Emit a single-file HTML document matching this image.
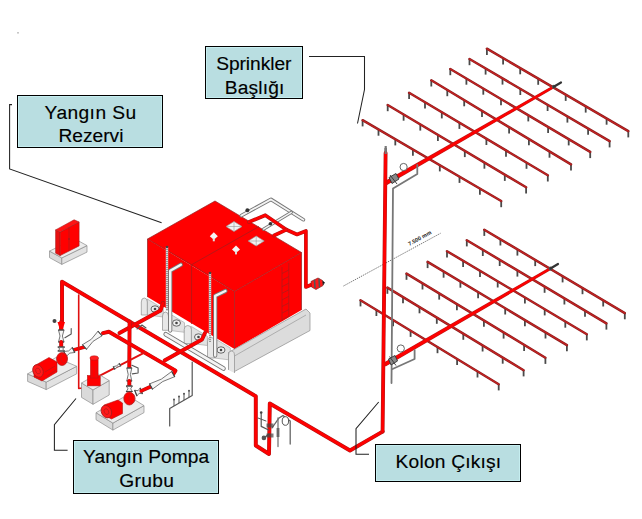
<!DOCTYPE html><html><head><meta charset="utf-8"><style>html,body{margin:0;padding:0;background:#fff;width:642px;height:519px;overflow:hidden}svg{position:absolute;left:0;top:0}</style></head><body>
<svg width="642" height="519" viewBox="0 0 642 519">
<rect x="17" y="32" width="2" height="1.6" fill="#c8c8c8"/>
<path d="M362.6,120.2 V126.4" stroke="#4a4a4a" stroke-width="1.8"/>
<path d="M378.5,129.5 V135.7" stroke="#4a4a4a" stroke-width="1.8"/>
<path d="M395.3,139.2 V145.4" stroke="#4a4a4a" stroke-width="1.8"/>
<path d="M412.9,149.5 V155.7" stroke="#4a4a4a" stroke-width="1.8"/>
<path d="M439.8,165.2 V171.4" stroke="#4a4a4a" stroke-width="1.8"/>
<path d="M459.5,176.7 V182.9" stroke="#4a4a4a" stroke-width="1.8"/>
<path d="M479.9,188.6 V194.8" stroke="#4a4a4a" stroke-width="1.8"/>
<path d="M501.2,201.0 V207.2" stroke="#4a4a4a" stroke-width="1.8"/>
<path d="M362.6,120.2 L501.2,201" stroke="#8c1f1f" stroke-width="2.5" stroke-linecap="round"/>
<path d="M362.6,120.2 L501.2,201" stroke="#c62222" stroke-width="1.2" stroke-linecap="round"/>
<path d="M387.7,105.0 V111.2" stroke="#4a4a4a" stroke-width="1.8"/>
<path d="M403.6,114.5 V120.7" stroke="#4a4a4a" stroke-width="1.8"/>
<path d="M420.3,124.4 V130.6" stroke="#4a4a4a" stroke-width="1.8"/>
<path d="M437.9,134.8 V141.0" stroke="#4a4a4a" stroke-width="1.8"/>
<path d="M464.8,150.9 V157.1" stroke="#4a4a4a" stroke-width="1.8"/>
<path d="M484.4,162.5 V168.7" stroke="#4a4a4a" stroke-width="1.8"/>
<path d="M504.8,174.7 V180.9" stroke="#4a4a4a" stroke-width="1.8"/>
<path d="M526.1,187.3 V193.5" stroke="#4a4a4a" stroke-width="1.8"/>
<path d="M387.7,105 L526.1,187.3" stroke="#8c1f1f" stroke-width="2.5" stroke-linecap="round"/>
<path d="M387.7,105 L526.1,187.3" stroke="#c62222" stroke-width="1.2" stroke-linecap="round"/>
<path d="M409.1,92.8 V99.0" stroke="#4a4a4a" stroke-width="1.8"/>
<path d="M425.0,102.3 V108.5" stroke="#4a4a4a" stroke-width="1.8"/>
<path d="M441.8,112.2 V118.4" stroke="#4a4a4a" stroke-width="1.8"/>
<path d="M459.4,122.7 V128.9" stroke="#4a4a4a" stroke-width="1.8"/>
<path d="M486.4,138.8 V145.0" stroke="#4a4a4a" stroke-width="1.8"/>
<path d="M506.0,150.5 V156.7" stroke="#4a4a4a" stroke-width="1.8"/>
<path d="M526.5,162.6 V168.8" stroke="#4a4a4a" stroke-width="1.8"/>
<path d="M547.8,175.3 V181.5" stroke="#4a4a4a" stroke-width="1.8"/>
<path d="M409.1,92.8 L547.8,175.3" stroke="#8c1f1f" stroke-width="2.5" stroke-linecap="round"/>
<path d="M409.1,92.8 L547.8,175.3" stroke="#c62222" stroke-width="1.2" stroke-linecap="round"/>
<path d="M431.3,80.3 V86.5" stroke="#4a4a4a" stroke-width="1.8"/>
<path d="M447.3,90.0 V96.2" stroke="#4a4a4a" stroke-width="1.8"/>
<path d="M464.2,100.1 V106.3" stroke="#4a4a4a" stroke-width="1.8"/>
<path d="M482.0,110.8 V117.0" stroke="#4a4a4a" stroke-width="1.8"/>
<path d="M509.1,127.2 V133.4" stroke="#4a4a4a" stroke-width="1.8"/>
<path d="M528.9,139.1 V145.3" stroke="#4a4a4a" stroke-width="1.8"/>
<path d="M549.5,151.5 V157.7" stroke="#4a4a4a" stroke-width="1.8"/>
<path d="M571.0,164.4 V170.6" stroke="#4a4a4a" stroke-width="1.8"/>
<path d="M431.3,80.3 L571,164.4" stroke="#8c1f1f" stroke-width="2.5" stroke-linecap="round"/>
<path d="M431.3,80.3 L571,164.4" stroke="#c62222" stroke-width="1.2" stroke-linecap="round"/>
<path d="M450.3,69.0 V75.2" stroke="#4a4a4a" stroke-width="1.8"/>
<path d="M466.4,78.5 V84.7" stroke="#4a4a4a" stroke-width="1.8"/>
<path d="M483.3,88.5 V94.7" stroke="#4a4a4a" stroke-width="1.8"/>
<path d="M501.0,99.1 V105.3" stroke="#4a4a4a" stroke-width="1.8"/>
<path d="M528.3,115.2 V121.4" stroke="#4a4a4a" stroke-width="1.8"/>
<path d="M548.1,126.9 V133.1" stroke="#4a4a4a" stroke-width="1.8"/>
<path d="M568.7,139.2 V145.4" stroke="#4a4a4a" stroke-width="1.8"/>
<path d="M590.2,151.9 V158.1" stroke="#4a4a4a" stroke-width="1.8"/>
<path d="M450.3,69 L590.2,151.9" stroke="#8c1f1f" stroke-width="2.5" stroke-linecap="round"/>
<path d="M450.3,69 L590.2,151.9" stroke="#c62222" stroke-width="1.2" stroke-linecap="round"/>
<path d="M469.5,59.0 V65.2" stroke="#4a4a4a" stroke-width="1.8"/>
<path d="M485.6,68.4 V74.6" stroke="#4a4a4a" stroke-width="1.8"/>
<path d="M502.5,78.4 V84.6" stroke="#4a4a4a" stroke-width="1.8"/>
<path d="M520.3,88.8 V95.0" stroke="#4a4a4a" stroke-width="1.8"/>
<path d="M547.6,104.8 V111.0" stroke="#4a4a4a" stroke-width="1.8"/>
<path d="M567.4,116.4 V122.6" stroke="#4a4a4a" stroke-width="1.8"/>
<path d="M588.1,128.6 V134.8" stroke="#4a4a4a" stroke-width="1.8"/>
<path d="M609.6,141.2 V147.4" stroke="#4a4a4a" stroke-width="1.8"/>
<path d="M469.5,59 L609.6,141.2" stroke="#8c1f1f" stroke-width="2.5" stroke-linecap="round"/>
<path d="M469.5,59 L609.6,141.2" stroke="#c62222" stroke-width="1.2" stroke-linecap="round"/>
<path d="M486.9,48.7 V54.9" stroke="#4a4a4a" stroke-width="1.8"/>
<path d="M503.1,58.2 V64.4" stroke="#4a4a4a" stroke-width="1.8"/>
<path d="M520.2,68.1 V74.3" stroke="#4a4a4a" stroke-width="1.8"/>
<path d="M538.2,78.6 V84.8" stroke="#4a4a4a" stroke-width="1.8"/>
<path d="M565.7,94.7 V100.9" stroke="#4a4a4a" stroke-width="1.8"/>
<path d="M585.7,106.4 V112.6" stroke="#4a4a4a" stroke-width="1.8"/>
<path d="M606.6,118.5 V124.7" stroke="#4a4a4a" stroke-width="1.8"/>
<path d="M628.3,131.2 V137.4" stroke="#4a4a4a" stroke-width="1.8"/>
<path d="M486.9,48.7 L628.3,131.2" stroke="#8c1f1f" stroke-width="2.5" stroke-linecap="round"/>
<path d="M486.9,48.7 L628.3,131.2" stroke="#c62222" stroke-width="1.2" stroke-linecap="round"/>
<polygon points="387.1,184.9 554.5,88.1 553.1,85.5 384.9,181.1" fill="#c01818"/>
<polygon points="386.8,184.3 554.3,87.6 553.3,86.0 385.2,181.7" fill="#ff0000"/>
<circle cx="553.8" cy="86.8" r="2" fill="#555"/>
<path d="M553.8,86.8 L561,82.5" stroke="#333" stroke-width="2.2" stroke-linecap="round"/>
<path d="M360.5,300.2 V306.4" stroke="#4a4a4a" stroke-width="1.8"/>
<path d="M376.4,309.8 V316.0" stroke="#4a4a4a" stroke-width="1.8"/>
<path d="M393.1,320.0 V326.2" stroke="#4a4a4a" stroke-width="1.8"/>
<path d="M410.6,330.7 V336.9" stroke="#4a4a4a" stroke-width="1.8"/>
<path d="M437.5,347.0 V353.2" stroke="#4a4a4a" stroke-width="1.8"/>
<path d="M457.1,358.9 V365.1" stroke="#4a4a4a" stroke-width="1.8"/>
<path d="M477.5,371.3 V377.5" stroke="#4a4a4a" stroke-width="1.8"/>
<path d="M498.7,384.2 V390.4" stroke="#4a4a4a" stroke-width="1.8"/>
<path d="M360.5,300.2 L498.7,384.2" stroke="#8c1f1f" stroke-width="2.5" stroke-linecap="round"/>
<path d="M360.5,300.2 L498.7,384.2" stroke="#c62222" stroke-width="1.2" stroke-linecap="round"/>
<path d="M387.4,287.6 V293.8" stroke="#4a4a4a" stroke-width="1.8"/>
<path d="M403.0,297.1 V303.3" stroke="#4a4a4a" stroke-width="1.8"/>
<path d="M419.5,307.1 V313.3" stroke="#4a4a4a" stroke-width="1.8"/>
<path d="M436.8,317.6 V323.8" stroke="#4a4a4a" stroke-width="1.8"/>
<path d="M463.3,333.6 V339.8" stroke="#4a4a4a" stroke-width="1.8"/>
<path d="M482.6,345.3 V351.5" stroke="#4a4a4a" stroke-width="1.8"/>
<path d="M502.7,357.5 V363.7" stroke="#4a4a4a" stroke-width="1.8"/>
<path d="M523.6,370.2 V376.4" stroke="#4a4a4a" stroke-width="1.8"/>
<path d="M387.4,287.6 L523.6,370.2" stroke="#8c1f1f" stroke-width="2.5" stroke-linecap="round"/>
<path d="M387.4,287.6 L523.6,370.2" stroke="#c62222" stroke-width="1.2" stroke-linecap="round"/>
<path d="M406.5,273.6 V279.8" stroke="#4a4a4a" stroke-width="1.8"/>
<path d="M422.5,283.3 V289.5" stroke="#4a4a4a" stroke-width="1.8"/>
<path d="M439.2,293.4 V299.6" stroke="#4a4a4a" stroke-width="1.8"/>
<path d="M456.9,304.1 V310.3" stroke="#4a4a4a" stroke-width="1.8"/>
<path d="M483.9,320.5 V326.7" stroke="#4a4a4a" stroke-width="1.8"/>
<path d="M503.6,332.4 V338.6" stroke="#4a4a4a" stroke-width="1.8"/>
<path d="M524.1,344.8 V351.0" stroke="#4a4a4a" stroke-width="1.8"/>
<path d="M545.4,357.7 V363.9" stroke="#4a4a4a" stroke-width="1.8"/>
<path d="M406.5,273.6 L545.4,357.7" stroke="#8c1f1f" stroke-width="2.5" stroke-linecap="round"/>
<path d="M406.5,273.6 L545.4,357.7" stroke="#c62222" stroke-width="1.2" stroke-linecap="round"/>
<path d="M427.6,261.9 V268.1" stroke="#4a4a4a" stroke-width="1.8"/>
<path d="M443.6,271.5 V277.7" stroke="#4a4a4a" stroke-width="1.8"/>
<path d="M460.4,281.5 V287.7" stroke="#4a4a4a" stroke-width="1.8"/>
<path d="M478.1,292.1 V298.3" stroke="#4a4a4a" stroke-width="1.8"/>
<path d="M505.2,308.3 V314.5" stroke="#4a4a4a" stroke-width="1.8"/>
<path d="M524.9,320.0 V326.2" stroke="#4a4a4a" stroke-width="1.8"/>
<path d="M545.5,332.3 V338.5" stroke="#4a4a4a" stroke-width="1.8"/>
<path d="M566.9,345.1 V351.3" stroke="#4a4a4a" stroke-width="1.8"/>
<path d="M427.6,261.9 L566.9,345.1" stroke="#8c1f1f" stroke-width="2.5" stroke-linecap="round"/>
<path d="M427.6,261.9 L566.9,345.1" stroke="#c62222" stroke-width="1.2" stroke-linecap="round"/>
<path d="M447.0,251.2 V257.4" stroke="#4a4a4a" stroke-width="1.8"/>
<path d="M463.1,260.7 V266.9" stroke="#4a4a4a" stroke-width="1.8"/>
<path d="M480.0,270.8 V277.0" stroke="#4a4a4a" stroke-width="1.8"/>
<path d="M497.7,281.3 V287.5" stroke="#4a4a4a" stroke-width="1.8"/>
<path d="M524.9,297.4 V303.6" stroke="#4a4a4a" stroke-width="1.8"/>
<path d="M544.7,309.2 V315.4" stroke="#4a4a4a" stroke-width="1.8"/>
<path d="M565.3,321.5 V327.7" stroke="#4a4a4a" stroke-width="1.8"/>
<path d="M586.8,334.2 V340.4" stroke="#4a4a4a" stroke-width="1.8"/>
<path d="M447,251.2 L586.8,334.2" stroke="#8c1f1f" stroke-width="2.5" stroke-linecap="round"/>
<path d="M447,251.2 L586.8,334.2" stroke="#c62222" stroke-width="1.2" stroke-linecap="round"/>
<path d="M466.8,240.2 V246.4" stroke="#4a4a4a" stroke-width="1.8"/>
<path d="M482.8,249.8 V256.0" stroke="#4a4a4a" stroke-width="1.8"/>
<path d="M499.7,259.8 V266.0" stroke="#4a4a4a" stroke-width="1.8"/>
<path d="M517.4,270.4 V276.6" stroke="#4a4a4a" stroke-width="1.8"/>
<path d="M544.6,286.6 V292.8" stroke="#4a4a4a" stroke-width="1.8"/>
<path d="M564.4,298.3 V304.5" stroke="#4a4a4a" stroke-width="1.8"/>
<path d="M585.0,310.6 V316.8" stroke="#4a4a4a" stroke-width="1.8"/>
<path d="M606.4,323.4 V329.6" stroke="#4a4a4a" stroke-width="1.8"/>
<path d="M466.8,240.2 L606.4,323.4" stroke="#8c1f1f" stroke-width="2.5" stroke-linecap="round"/>
<path d="M466.8,240.2 L606.4,323.4" stroke="#c62222" stroke-width="1.2" stroke-linecap="round"/>
<path d="M484.3,229.7 V235.9" stroke="#4a4a4a" stroke-width="1.8"/>
<path d="M500.4,239.3 V245.5" stroke="#4a4a4a" stroke-width="1.8"/>
<path d="M517.4,249.4 V255.6" stroke="#4a4a4a" stroke-width="1.8"/>
<path d="M535.2,259.9 V266.1" stroke="#4a4a4a" stroke-width="1.8"/>
<path d="M562.6,276.2 V282.4" stroke="#4a4a4a" stroke-width="1.8"/>
<path d="M582.5,288.0 V294.2" stroke="#4a4a4a" stroke-width="1.8"/>
<path d="M603.2,300.3 V306.5" stroke="#4a4a4a" stroke-width="1.8"/>
<path d="M624.8,313.1 V319.3" stroke="#4a4a4a" stroke-width="1.8"/>
<path d="M484.3,229.7 L624.8,313.1" stroke="#8c1f1f" stroke-width="2.5" stroke-linecap="round"/>
<path d="M484.3,229.7 L624.8,313.1" stroke="#c62222" stroke-width="1.2" stroke-linecap="round"/>
<polygon points="385.6,366.5 551.3,269.8 549.7,267.2 383.4,362.7" fill="#c01818"/>
<polygon points="385.3,365.9 551.0,269.3 550.0,267.7 383.7,363.3" fill="#ff0000"/>
<circle cx="550.5" cy="268.5" r="2" fill="#555"/>
<path d="M550.5,268.5 L558,264" stroke="#333" stroke-width="2.2" stroke-linecap="round"/>
<path d="M343.5,286 L440.7,233.2" stroke="#444" stroke-width="0.8" stroke-dasharray="1.2,1"/>
<text x="0" y="0" transform="translate(409.5,246) rotate(-29)" font-family="Liberation Sans, sans-serif" font-weight="bold" font-size="5.6" fill="#222" style="text-rendering:geometricPrecision">7.500 mm</text>
<path d="M417.3,165 L417.3,174 L393,188.5 L391.5,383" fill="none" stroke="#777" stroke-width="1.8" stroke-linejoin="round" stroke-linecap="round" />
<path d="M414.6,350 L414.6,359 L392,369.3" fill="none" stroke="#777" stroke-width="1.8" stroke-linejoin="round" stroke-linecap="round" />
<circle cx="403.6" cy="167" r="3.6" fill="#fff" stroke="#555" stroke-width="0.9"/>
<circle cx="400.8" cy="348.5" r="3.6" fill="#fff" stroke="#555" stroke-width="0.9"/>
<path d="M385.7,148 V153" stroke="#666" stroke-width="2.5"/>
<path d="M62,322 L62,281.8 L255.8,396.3 L255.8,445.5 L269,454 L269.8,403.5 L350,450.5 L382.6,431.6" fill="none" stroke="#b01818" stroke-width="3.9600000000000004" stroke-linejoin="round" stroke-linecap="round"/>
<path d="M62,322 L62,281.8 L255.8,396.3 L255.8,445.5 L269,454 L269.8,403.5 L350,450.5 L382.6,431.6" fill="none" stroke="#ff0000" stroke-width="2.8600000000000003" stroke-linejoin="round" stroke-linecap="round"/>
<path d="M382.6,431.6 L385.6,153" fill="none" stroke="#b01818" stroke-width="3.87" stroke-linejoin="round" stroke-linecap="round"/>
<path d="M382.6,431.6 L385.6,153" fill="none" stroke="#ff0000" stroke-width="2.77" stroke-linejoin="round" stroke-linecap="round"/>
<polygon points="389,177.5 396,173.5 399,179 392,183.5" fill="#888" stroke="#333" stroke-width="0.9"/><path d="M390,175 L397,184" stroke="#333" stroke-width="0.9"/>
<polygon points="388.5,359 395,355.5 397.5,361 391,365" fill="#888" stroke="#333" stroke-width="0.9"/><path d="M389.5,356.5 L396,365.5" stroke="#333" stroke-width="0.9"/>
<polygon points="49.5,251.1 61.8,257.9 61.8,264.4 49.5,257.6" fill="#dadada" stroke="#8c8c8c" stroke-width="0.7"/>
<polygon points="61.8,257.9 87,245.6 87,252.1 61.8,264.4" fill="#e2e2e2" stroke="#8c8c8c" stroke-width="0.7"/>
<polygon points="49.5,251.1 74.7,238.8 87,245.6 61.8,257.9" fill="#ececec" stroke="#8c8c8c" stroke-width="0.7"/>
<polygon points="55.6,229.9 60.1,232.1 60.1,255.6 55.6,253.2" fill="#e81010" stroke="#a81c1c" stroke-width="0.6"/>
<polygon points="60.1,232.1 79.1,222 79.1,245.9 60.1,255.6" fill="#ff0000" stroke="#a81c1c" stroke-width="0.6"/>
<polygon points="55.6,229.9 74.1,219.8 79.1,222 60.1,232.1" fill="#ff1414" stroke="#a81c1c" stroke-width="0.6"/>
<path d="M69,227.3 V250.8" stroke="#a81c1c" stroke-width="0.7"/><circle cx="69" cy="239" r="0.9" fill="#a81c1c"/>
<polygon points="147.5,239 215,201 301.5,252.5 234.5,291.5" fill="#ff0000"/>
<polygon points="147.5,239 234.5,291.5 234.5,349 147.5,297" fill="#ff0000"/>
<polygon points="234.5,291.5 301.5,252.5 301.5,310 234.5,349" fill="#ff0000"/>
<g stroke="#a81c1c" stroke-width="0.8" fill="none">
<path d="M147.5,239 L191.6,264.7 L234.5,291.5 L301.5,252.5"/>
<path d="M234.5,291.5 V349"/><path d="M191.6,264.7 L259,226.5"/><path d="M191.6,264.7 V324"/>
<path d="M147.5,297 V239 L215,201 L301.5,252.5 V310" stroke="#902020" stroke-width="0.7"/>
</g>
<g stroke="#a81c1c" stroke-width="0.7" fill="none"><path d="M282,267 V321"/><path d="M288.8,263 V317"/>
<path d="M282,273.5 L288.8,270.0"/>
<path d="M282,280.1 L288.8,276.6"/>
<path d="M282,286.7 L288.8,283.2"/>
<path d="M282,293.3 L288.8,289.8"/>
<path d="M282,299.9 L288.8,296.4"/>
<path d="M282,306.5 L288.8,303.0"/>
<path d="M282,313.1 L288.8,309.6"/>
<path d="M282,319.7 L288.8,316.2"/>
</g>
<polygon points="226,226.5 234,221.5 242,226.5 234,231.5" fill="#f2f2f2" stroke="#999" stroke-width="0.6"/>
<path d="M226,226.5 H242 M234,221.5 V231.5" stroke="#888" stroke-width="0.5"/>
<polygon points="248.2,241 256.2,236 264.2,241 256.2,246" fill="#f2f2f2" stroke="#999" stroke-width="0.6"/>
<path d="M248.2,241 H264.2 M256.2,236 V246" stroke="#888" stroke-width="0.5"/>
<polygon points="209.8,236.3 213.8,232.3 217.8,236.3 213.8,239.8" fill="#f4f4f4"/>
<rect x="212.8" y="238.3" width="2" height="3" fill="#ddd"/>
<polygon points="232,249.4 236,245.4 240,249.4 236,252.9" fill="#f4f4f4"/>
<rect x="235" y="251.4" width="2" height="3" fill="#ddd"/>
<path d="M241.3,215.6 L271,199.4 L303.4,219.7" fill="none" stroke="#777" stroke-width="3.6" stroke-linejoin="round" stroke-linecap="round"/>
<path d="M241.3,215.6 L271,199.4 L303.4,219.7" fill="none" stroke="#f4f4f4" stroke-width="1.8" stroke-linejoin="round" stroke-linecap="round"/>
<path d="M291.3,212.3 L263.6,229.1" fill="none" stroke="#777" stroke-width="3.2" stroke-linejoin="round" stroke-linecap="round"/>
<path d="M291.3,212.3 L263.6,229.1" fill="none" stroke="#f4f4f4" stroke-width="1.4000000000000001" stroke-linejoin="round" stroke-linecap="round"/>
<circle cx="247.4" cy="210.2" r="2" fill="#333"/><circle cx="270.4" cy="223.7" r="1.8" fill="#333"/>
<path d="M249,222 L265.3,215.2 L286.5,229.7 L297,234.5 L305.9,231 L305.9,287 L312,284.5" fill="none" stroke="#b01818" stroke-width="3.69" stroke-linejoin="round" stroke-linecap="round"/>
<path d="M249,222 L265.3,215.2 L286.5,229.7 L297,234.5 L305.9,231 L305.9,287 L312,284.5" fill="none" stroke="#ff0000" stroke-width="2.59" stroke-linejoin="round" stroke-linecap="round"/>
<path d="M286.5,229.7 L274,235.5" fill="none" stroke="#b01818" stroke-width="3.69" stroke-linejoin="round" stroke-linecap="round"/>
<path d="M286.5,229.7 L274,235.5" fill="none" stroke="#ff0000" stroke-width="2.59" stroke-linejoin="round" stroke-linecap="round"/>
<polygon points="311,281.5 318,278 322.5,280.5 323,285.5 316,289.5 311.5,287" fill="#ff1a1a" stroke="#8a1c1c" stroke-width="0.7"/><path d="M314.5,279.8 L315,288 M319,278.8 L319.5,287" stroke="#555" stroke-width="1.6"/><path d="M322.5,281 L324.5,282.5 L323,285" stroke="#444" stroke-width="1"/>
<polygon points="147.3,299 163.3,308.7 163.3,317 147.3,315" fill="#e2e2e2" stroke="#a0a0a0" stroke-width="0.6"/>
<path d="M141.3,315 V302 Q141.3,298 144.3,298 Q147.3,298 147.3,302 V315 Z" fill="#e8e8e8" stroke="#8c8c8c" stroke-width="0.7"/>
<polygon points="168.5,313 184.5,322.7 184.5,332.3 168.5,330.3" fill="#e2e2e2" stroke="#a0a0a0" stroke-width="0.6"/>
<path d="M162.5,330.3 V316 Q162.5,312 165.5,312 Q168.5,312 168.5,316 V330.3 Z" fill="#e8e8e8" stroke="#8c8c8c" stroke-width="0.7"/>
<polygon points="191.4,326.5 207.4,336.2 207.4,345.5 191.4,343.5" fill="#e2e2e2" stroke="#a0a0a0" stroke-width="0.6"/>
<path d="M184.2,343.5 V329.5 Q184.2,325.5 187.8,325.5 Q191.4,325.5 191.4,329.5 V343.5 Z" fill="#e8e8e8" stroke="#8c8c8c" stroke-width="0.7"/>
<polygon points="214.3,338.3 230.3,348.0 230.3,360 214.3,358" fill="#e2e2e2" stroke="#a0a0a0" stroke-width="0.6"/>
<path d="M207.5,358 V341.3 Q207.5,337.3 210.9,337.3 Q214.3,337.3 214.3,341.3 V358 Z" fill="#e8e8e8" stroke="#8c8c8c" stroke-width="0.7"/>
<polygon points="228.5,352.5 306,309 310,313 310,330.5 234.5,371.5 228.5,369" fill="#dcdcdc" stroke="#8c8c8c" stroke-width="0.7"/>
<path d="M228.5,370 V356 Q228.5,351 231.5,351 Q234.5,351 234.5,356 V373" fill="#e6e6e6" stroke="#8c8c8c" stroke-width="0.7"/>
<path d="M234.5,356 L306,315" stroke="#9a9a9a" stroke-width="0.7"/>
<ellipse cx="155" cy="309" rx="4" ry="3.2" fill="#f0f0f0" stroke="#555" stroke-width="0.9"/>
<circle cx="155" cy="309" r="1.3" fill="#444"/>
<ellipse cx="176.5" cy="323" rx="4" ry="3.2" fill="#f0f0f0" stroke="#555" stroke-width="0.9"/>
<circle cx="176.5" cy="323" r="1.3" fill="#444"/>
<ellipse cx="198.5" cy="337" rx="4" ry="3.2" fill="#f0f0f0" stroke="#555" stroke-width="0.9"/>
<circle cx="198.5" cy="337" r="1.3" fill="#444"/>
<ellipse cx="221" cy="350" rx="4" ry="3.2" fill="#f0f0f0" stroke="#555" stroke-width="0.9"/>
<circle cx="221" cy="350" r="1.3" fill="#444"/>
<path d="M167,247 V311" stroke="#d8d8d8" stroke-width="2.4"/>
<path d="M167,247 V311" stroke="#555" stroke-width="1" stroke-dasharray="1,1"/>
<circle cx="167" cy="247" r="1.3" fill="#444"/>
<path d="M210,273 V342" stroke="#d8d8d8" stroke-width="2.4"/>
<path d="M210,273 V342" stroke="#555" stroke-width="1" stroke-dasharray="1,1"/>
<circle cx="210" cy="273" r="1.3" fill="#444"/>
<path d="M180.8,264.7 L170.2,270.8 L170.2,330.6" fill="none" stroke="#777" stroke-width="4.2" stroke-linejoin="round" stroke-linecap="round"/>
<path d="M180.8,264.7 L170.2,270.8 L170.2,330.6" fill="none" stroke="#f4f4f4" stroke-width="2.4000000000000004" stroke-linejoin="round" stroke-linecap="round"/>
<path d="M225.4,291 L215.2,295.8 L215.2,355.6" fill="none" stroke="#777" stroke-width="4.2" stroke-linejoin="round" stroke-linecap="round"/>
<path d="M225.4,291 L215.2,295.8 L215.2,355.6" fill="none" stroke="#f4f4f4" stroke-width="2.4000000000000004" stroke-linejoin="round" stroke-linecap="round"/>
<path d="M165.7,334.2 L223.5,368.5" fill="none" stroke="#777" stroke-width="4.6" stroke-linejoin="round" stroke-linecap="round"/>
<path d="M165.7,334.2 L223.5,368.5" fill="none" stroke="#f4f4f4" stroke-width="2.8" stroke-linejoin="round" stroke-linecap="round"/>
<path d="M163,303 L160.5,310.5 L119.5,333.1" fill="none" stroke="#b01818" stroke-width="3.9600000000000004" stroke-linejoin="round" stroke-linecap="round"/>
<path d="M163,303 L160.5,310.5 L119.5,333.1" fill="none" stroke="#ff0000" stroke-width="2.8600000000000003" stroke-linejoin="round" stroke-linecap="round"/>
<path d="M205,333 L202,339.5 L164.6,360.5" fill="none" stroke="#b01818" stroke-width="3.9600000000000004" stroke-linejoin="round" stroke-linecap="round"/>
<path d="M205,333 L202,339.5 L164.6,360.5" fill="none" stroke="#ff0000" stroke-width="2.8600000000000003" stroke-linejoin="round" stroke-linecap="round"/>
<path d="M129.6,321.6 L129.3,368" fill="none" stroke="#b01818" stroke-width="3.9600000000000004" stroke-linejoin="round" stroke-linecap="round"/>
<path d="M129.6,321.6 L129.3,368" fill="none" stroke="#ff0000" stroke-width="2.8600000000000003" stroke-linejoin="round" stroke-linecap="round"/>
<path d="M103,333.1 L108.9,331.7 L175.5,370.6 L173.2,374.1" fill="none" stroke="#b01818" stroke-width="3.9600000000000004" stroke-linejoin="round" stroke-linecap="round"/>
<path d="M103,333.1 L108.9,331.7 L175.5,370.6 L173.2,374.1" fill="none" stroke="#ff0000" stroke-width="2.8600000000000003" stroke-linejoin="round" stroke-linecap="round"/>
<path d="M61.2,322 L61.2,330" fill="none" stroke="#b01818" stroke-width="4.14" stroke-linejoin="round" stroke-linecap="round"/>
<path d="M61.2,322 L61.2,330" fill="none" stroke="#ff0000" stroke-width="3.0399999999999996" stroke-linejoin="round" stroke-linecap="round"/>
<polygon points="57.5,322 65,322 62.5,330 60,330" fill="#ff0000"/>
<polygon points="58.5,330.0 60.0,336.0 58.5,342.0 64.0,342.0 62.4,336.0 64.0,330.0" fill="#f6f6f6" stroke="#555" stroke-width="0.8" stroke-linejoin="round"/>
<path d="M58.2,330.0 L64.2,330.0" stroke="#444" stroke-width="1.1"/>
<path d="M58.2,342.0 L64.2,342.0" stroke="#444" stroke-width="1.1"/>
<path d="M61.2,342 L61.2,347" fill="none" stroke="#b01818" stroke-width="3.9600000000000004" stroke-linejoin="round" stroke-linecap="round"/>
<path d="M61.2,342 L61.2,347" fill="none" stroke="#ff0000" stroke-width="2.8600000000000003" stroke-linejoin="round" stroke-linecap="round"/>
<polygon points="58.0,347.0 59.7,349.0 58.0,351.0 64.5,351.0 62.7,349.0 64.5,347.0" fill="#f6f6f6" stroke="#555" stroke-width="0.8" stroke-linejoin="round"/>
<path d="M57.6,347.0 L64.8,347.0" stroke="#444" stroke-width="1.1"/>
<path d="M57.6,351.0 L64.8,351.0" stroke="#444" stroke-width="1.1"/>
<path d="M73.5,350 L84.5,347" fill="none" stroke="#b01818" stroke-width="3.7800000000000002" stroke-linejoin="round" stroke-linecap="round"/>
<path d="M73.5,350 L84.5,347" fill="none" stroke="#ff0000" stroke-width="2.68" stroke-linejoin="round" stroke-linecap="round"/>
<polygon points="66.2,356.5 69.8,353.1 74.7,352.5 72.3,347.5 68.7,350.9 63.8,351.5" fill="#f6f6f6" stroke="#555" stroke-width="0.8" stroke-linejoin="round"/>
<path d="M66.3,356.7 L63.7,351.3" stroke="#444" stroke-width="1.1"/>
<path d="M74.8,352.7 L72.2,347.3" stroke="#444" stroke-width="1.1"/>
<polygon points="86.5,349.3 93.1,341.3 102.0,335.8 98.0,331.2 91.4,339.2 82.5,344.7" fill="#f6f6f6" stroke="#555" stroke-width="0.8" stroke-linejoin="round"/>
<path d="M86.7,349.5 L82.3,344.5" stroke="#444" stroke-width="1.1"/>
<path d="M102.2,336.0 L97.8,331.0" stroke="#444" stroke-width="1.1"/>
<polygon points="126.8,368.0 128.2,374.5 126.8,381.0 131.8,381.0 130.4,374.5 131.8,368.0" fill="#f6f6f6" stroke="#555" stroke-width="0.8" stroke-linejoin="round"/>
<path d="M126.6,368.0 L132.1,368.0" stroke="#444" stroke-width="1.1"/>
<path d="M126.6,381.0 L132.1,381.0" stroke="#444" stroke-width="1.1"/>
<path d="M129.3,381 L129.3,386" fill="none" stroke="#b01818" stroke-width="3.9600000000000004" stroke-linejoin="round" stroke-linecap="round"/>
<path d="M129.3,381 L129.3,386" fill="none" stroke="#ff0000" stroke-width="2.8600000000000003" stroke-linejoin="round" stroke-linecap="round"/>
<polygon points="126.3,386.0 128.0,388.8 126.3,391.5 132.3,391.5 130.7,388.8 132.3,386.0" fill="#f6f6f6" stroke="#555" stroke-width="0.8" stroke-linejoin="round"/>
<path d="M126.0,386.0 L132.6,386.0" stroke="#444" stroke-width="1.1"/>
<path d="M126.0,391.5 L132.6,391.5" stroke="#444" stroke-width="1.1"/>
<path d="M131.9,365.2 L138.1,368.1 L138.1,373 L132.3,373.9" fill="none" stroke="#555" stroke-width="1.1" stroke-linejoin="round" stroke-linecap="round" />
<polygon points="136.9,395.9 139.1,393.3 142.4,393.7 140.2,388.1 138.0,390.7 134.7,390.3" fill="#f6f6f6" stroke="#555" stroke-width="0.8" stroke-linejoin="round"/>
<path d="M137.0,396.2 L134.6,390.0" stroke="#444" stroke-width="1.1"/>
<path d="M142.5,394.0 L140.1,387.8" stroke="#444" stroke-width="1.1"/>
<path d="M141.3,390.9 L151,386.5" fill="none" stroke="#b01818" stroke-width="3.7800000000000002" stroke-linejoin="round" stroke-linecap="round"/>
<path d="M141.3,390.9 L151,386.5" fill="none" stroke="#ff0000" stroke-width="2.68" stroke-linejoin="round" stroke-linecap="round"/>
<polygon points="152.5,389.1 162.8,381.5 174.7,376.7 171.7,371.5 161.4,379.1 149.5,383.9" fill="#f6f6f6" stroke="#555" stroke-width="0.8" stroke-linejoin="round"/>
<path d="M152.6,389.4 L149.4,383.6" stroke="#444" stroke-width="1.1"/>
<path d="M174.8,377.0 L171.6,371.2" stroke="#444" stroke-width="1.1"/>
<path d="M78.7,295 L78.7,388.5 L84.5,387.8" fill="none" stroke="#e01010" stroke-width="1.6" stroke-linejoin="round" stroke-linecap="round" />
<path d="M100.4,375.4 L145.4,352.1" fill="none" stroke="#e01010" stroke-width="1.8" stroke-linejoin="round" stroke-linecap="round" />
<polygon points="114.7,369.3 117.3,367.0 120.7,366.1 119.3,363.5 116.7,365.8 113.3,366.7" fill="#f6f6f6" stroke="#555" stroke-width="0.8" stroke-linejoin="round"/>
<path d="M114.8,369.5 L113.2,366.5" stroke="#444" stroke-width="1.1"/>
<path d="M120.8,366.3 L119.2,363.3" stroke="#444" stroke-width="1.1"/>
<circle cx="54.5" cy="321" r="2" fill="#444"/>
<path d="M64.9,337.7 L71.2,334 L71.2,328.5" fill="none" stroke="#555" stroke-width="1.1" stroke-linejoin="round" stroke-linecap="round" />
<path d="M137,329 L142,325 L146,328" fill="none" stroke="#555" stroke-width="1.1" stroke-linejoin="round" stroke-linecap="round" />
<polygon points="27.6,373.9 46.2,382.1 46.2,389.6 27.6,381.4" fill="#dadada" stroke="#8c8c8c" stroke-width="0.7"/>
<polygon points="46.2,382.1 76.7,366.3 76.7,373.8 46.2,389.6" fill="#e2e2e2" stroke="#8c8c8c" stroke-width="0.7"/>
<polygon points="27.6,373.9 56,357.5 76.7,366.3 46.2,382.1" fill="#ececec" stroke="#8c8c8c" stroke-width="0.7"/>
<polygon points="34,366 49,357.5 57,362 57,372 42,381 34,377" fill="#ff0000" stroke="#b01818" stroke-width="0.6"/>
<ellipse cx="38" cy="371" rx="5" ry="6.5" transform="rotate(-25 38 371)" fill="#ff1a1a" stroke="#a81c1c" stroke-width="0.8"/>
<ellipse cx="38" cy="371" rx="2.2" ry="3" transform="rotate(-25 38 371)" fill="none" stroke="#a81c1c" stroke-width="0.6"/>
<path d="M45,372 L55,366 M47,376 L56,370" stroke="#a81c1c" stroke-width="0.6"/>
<ellipse cx="62" cy="359" rx="5.5" ry="6.5" fill="#ff0000" stroke="#a81c1c" stroke-width="0.7"/>
<ellipse cx="64" cy="358" rx="3" ry="5" fill="none" stroke="#c02020" stroke-width="0.6"/>
<polygon points="81.5,383 93,389.9 93,404.29999999999995 81.5,397.4" fill="#dadada" stroke="#8c8c8c" stroke-width="0.7"/>
<polygon points="93,389.9 109.2,380.6 109.2,395.0 93,404.29999999999995" fill="#e2e2e2" stroke="#8c8c8c" stroke-width="0.7"/>
<polygon points="81.5,383 97.7,373.7 109.2,380.6 93,389.9" fill="#ececec" stroke="#8c8c8c" stroke-width="0.7"/>
<rect x="87.3" y="375.4" width="13" height="10.5" fill="#ff0000" stroke="#b01818" stroke-width="0.5"/>
<rect x="90.4" y="358" width="7.7" height="20" fill="#ff0000" stroke="#b01818" stroke-width="0.5"/>
<ellipse cx="94.2" cy="358" rx="4.2" ry="2.2" fill="#ff2020" stroke="#b01818" stroke-width="0.5"/>
<path d="M92,366 V378 M96,366 V378" stroke="#c02020" stroke-width="0.5"/>
<polygon points="96,412.7 112.9,423.1 112.9,430.1 96,419.7" fill="#dadada" stroke="#8c8c8c" stroke-width="0.7"/>
<polygon points="112.9,423.1 144,405.6 144,412.6 112.9,430.1" fill="#e2e2e2" stroke="#8c8c8c" stroke-width="0.7"/>
<polygon points="96,412.7 127.1,395.2 144,405.6 112.9,423.1" fill="#ececec" stroke="#8c8c8c" stroke-width="0.7"/>
<polygon points="104,405 118,400 122.5,403 122.5,413.5 111.5,419 104,415" fill="#ff0000" stroke="#b01818" stroke-width="0.6"/>
<ellipse cx="106.4" cy="411.6" rx="5" ry="6.5" transform="rotate(-25 106.4 411.6)" fill="#ff1a1a" stroke="#a81c1c" stroke-width="0.8"/>
<ellipse cx="106.4" cy="411.6" rx="2.2" ry="3" transform="rotate(-25 106.4 411.6)" fill="none" stroke="#a81c1c" stroke-width="0.6"/>
<ellipse cx="129.3" cy="398.5" rx="5.5" ry="6.5" fill="#ff0000" stroke="#a81c1c" stroke-width="0.7"/>
<ellipse cx="132" cy="398.5" rx="3" ry="5" fill="none" stroke="#c02020" stroke-width="0.6"/>
<path d="M192.2,362 L192.2,395.5 L169.7,408.5 L169.7,426" fill="none" stroke="#555" stroke-width="1.2" stroke-linejoin="round" stroke-linecap="round" />
<path d="M174,405.5 L174,399.5" fill="none" stroke="#555" stroke-width="1" stroke-linejoin="round" stroke-linecap="round" />
<circle cx="174" cy="399.5" r="1" fill="#555"/>
<path d="M179,402.6 L179,396.6" fill="none" stroke="#555" stroke-width="1" stroke-linejoin="round" stroke-linecap="round" />
<circle cx="179" cy="396.6" r="1" fill="#555"/>
<path d="M184,399.7 L184,393.7" fill="none" stroke="#555" stroke-width="1" stroke-linejoin="round" stroke-linecap="round" />
<circle cx="184" cy="393.7" r="1" fill="#555"/>
<path d="M189,396.8 L189,390.8" fill="none" stroke="#555" stroke-width="1" stroke-linejoin="round" stroke-linecap="round" />
<circle cx="189" cy="390.8" r="1" fill="#555"/>
<path d="M261.2,412.9 L261.2,426.4 L268.6,430" fill="none" stroke="#555" stroke-width="1.2" stroke-linejoin="round" stroke-linecap="round" />
<path d="M258,418 L266,421" fill="none" stroke="#555" stroke-width="1" stroke-linejoin="round" stroke-linecap="round" />
<circle cx="261.2" cy="412.5" r="1.3" fill="#444"/>
<circle cx="263.9" cy="437.9" r="2.3" fill="#555"/>
<path d="M263.9,437.9 L269,434" fill="none" stroke="#555" stroke-width="1.2" stroke-linejoin="round" stroke-linecap="round" />
<path d="M272,428 L278.7,418.3 L283,415.5 L290.2,421 L290.2,444" fill="none" stroke="#666" stroke-width="1.3" stroke-linejoin="round" stroke-linecap="round" />
<ellipse cx="285.4" cy="421" rx="3.2" ry="4.3" fill="#fff" stroke="#555" stroke-width="1"/>
<path d="M278,418 L278,446.6" fill="none" stroke="#777" stroke-width="1.3" stroke-linejoin="round" stroke-linecap="round" />
<rect x="276.6" y="428" width="2.8" height="9" fill="#666"/>
<rect x="266.5" y="423.5" width="7" height="4" fill="#444" opacity="0.7"/>
<rect x="266.5" y="433.5" width="7" height="4" fill="#444" opacity="0.7"/>
<path d="M385.7,146 V154" stroke="#777" stroke-width="2.2"/>
<g fill="none" stroke="#222" stroke-width="1.05">
<path d="M309,56.5 H364.5 V89.5 L357.5,123.5"/>
<path d="M12,104.6 H9.6 V169 L161.6,222.7"/>
<path d="M76,398.5 L54.4,424.6 V450.3 H67.6"/>
<path d="M378.7,402 L356,428.7 V454.2 H369"/>
</g>
<rect x="205.5" y="46.5" width="97" height="52" fill="#b9dee1" stroke="#000" stroke-width="1"/>
<rect x="206.5" y="47.5" width="95" height="50" fill="none" stroke="#c6eef0" stroke-width="1"/>
<rect x="17.5" y="95.5" width="145" height="52" fill="#b9dee1" stroke="#000" stroke-width="1"/>
<rect x="18.5" y="96.5" width="143" height="50" fill="none" stroke="#c6eef0" stroke-width="1"/>
<rect x="73.5" y="440.5" width="145" height="53" fill="#b9dee1" stroke="#000" stroke-width="1"/>
<rect x="74.5" y="441.5" width="143" height="51" fill="none" stroke="#c6eef0" stroke-width="1"/>
<rect x="375.5" y="444.5" width="145" height="37" fill="#b9dee1" stroke="#000" stroke-width="1"/>
<rect x="376.5" y="445.5" width="143" height="35" fill="none" stroke="#c6eef0" stroke-width="1"/>
<text x="216.2" y="70" textLength="75.2" lengthAdjust="spacing" font-family="Liberation Sans, sans-serif" font-size="19.2" fill="#000" stroke="#000" stroke-width="0.15">Sprinkler</text>
<text x="224.8" y="93.8" textLength="59.6" lengthAdjust="spacing" font-family="Liberation Sans, sans-serif" font-size="19.2" fill="#000" stroke="#000" stroke-width="0.15">Başlığı</text>
<text x="44.6" y="119" textLength="91.5" lengthAdjust="spacing" font-family="Liberation Sans, sans-serif" font-size="19.2" fill="#000" stroke="#000" stroke-width="0.15">Yangın Su</text>
<text x="58.4" y="142" textLength="65" lengthAdjust="spacing" font-family="Liberation Sans, sans-serif" font-size="19.2" fill="#000" stroke="#000" stroke-width="0.15">Rezervi</text>
<text x="83.0" y="463.3" textLength="126.2" lengthAdjust="spacing" font-family="Liberation Sans, sans-serif" font-size="19.2" fill="#000" stroke="#000" stroke-width="0.15">Yangın Pompa</text>
<text x="119.2" y="486.5" textLength="54.8" lengthAdjust="spacing" font-family="Liberation Sans, sans-serif" font-size="19.2" fill="#000" stroke="#000" stroke-width="0.15">Grubu</text>
<text x="395.6" y="468" textLength="105.6" lengthAdjust="spacing" font-family="Liberation Sans, sans-serif" font-size="19.2" fill="#000" stroke="#000" stroke-width="0.15">Kolon Çıkışı</text>
</svg></body></html>
